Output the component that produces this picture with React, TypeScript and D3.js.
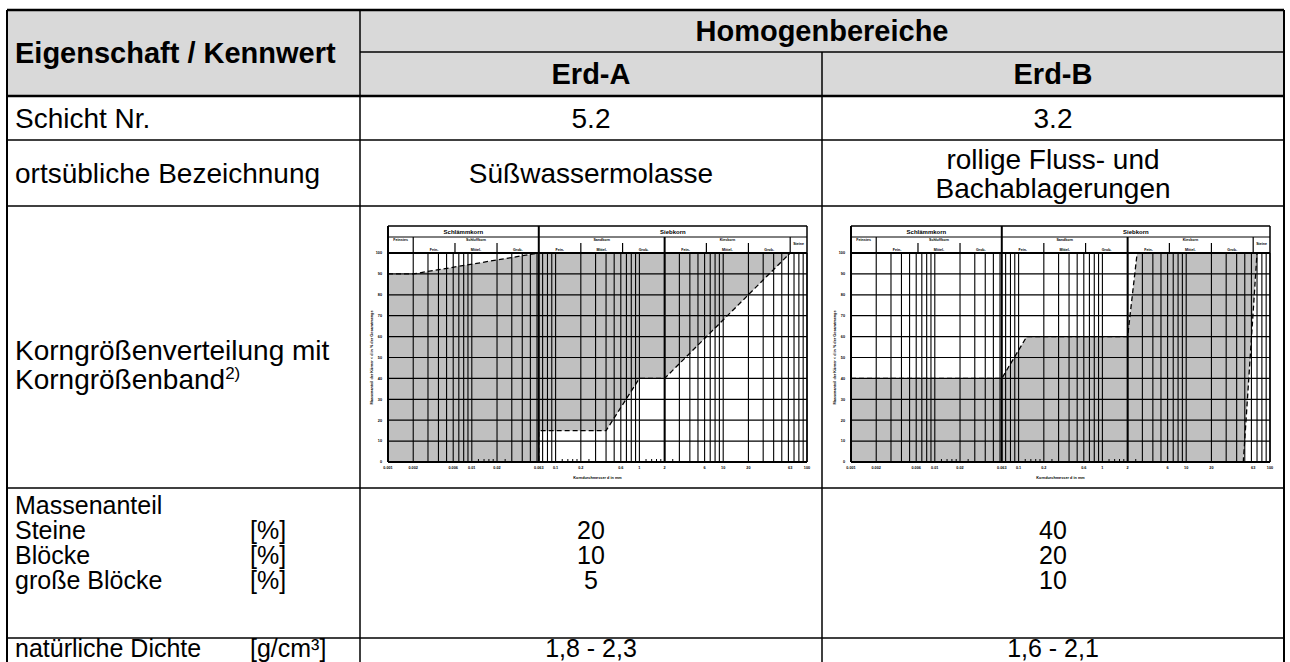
import React, { useEffect } from 'react';
import * as d3 from 'd3';

// ---------- table data ----------
const headLeft = 'Eigenschaft / Kennwert';
const headMain = 'Homogenbereiche';
const colHeaders = ['Erd-A', 'Erd-B'];
const schichtNr = ['5.2', '3.2'];
const bezeichnung = [['Süßwassermolasse'], ['rollige Fluss- und', 'Bachablagerungen']];
const massenLabels = ['Steine', 'Blöcke', 'große Blöcke'];
const massenA = ['20', '10', '5'];
const massenB = ['40', '20', '10'];
const dichte = ['1,8 - 2,3', '1,6 - 2,1'];

// ---------- grain size band data (d in mm, passing in %) ----------
const bandAUpperD = [0.001, 0.002, 0.063, 100];
const bandAUpperP = [90, 90, 100, 100];
const bandALowerD = [0.001, 0.063, 0.063, 0.4, 1, 2, 63, 100];
const bandALowerP = [0, 0, 15, 15, 40, 40, 100, 100];
const bandBUpperD = [0.001, 0.063, 0.125, 2, 2.6, 100];
const bandBUpperP = [40, 40, 60, 60, 100, 100];
const bandBLowerD = [0.001, 48, 70, 100];
const bandBLowerP = [0, 0, 100, 100];

const xTickVals = [0.001, 0.002, 0.006, 0.01, 0.02, 0.063, 0.1, 0.2, 0.6, 1, 2, 6, 10, 20, 63, 100];
const xTickLabels = ['0.001', '0.002', '0.006', '0.01', '0.02', '0.063', '0.1', '0.2', '0.6', '1', '2', '6', '10', '20', '63', '100'];
const yTickVals = [0, 10, 20, 30, 40, 50, 60, 70, 80, 90, 100];
const minorMarks = [1.2, 1.4, 1.6, 1.8, 2.5];

const FONT = '"Liberation Sans", Arial, Helvetica, sans-serif';

// table geometry
const X0 = 7, X1 = 360, X2 = 822, X3 = 1284;
const R = [10, 52, 96, 140, 206, 488, 638, 700];

type ChartProps = {
  left: number; right: number; top: number; bottom: number;
  upD: number[]; upP: number[]; loD: number[]; loP: number[];
};

function Chart({ left, right, top, bottom, upD, upP, loD, loP }: ChartProps) {
  const x = d3.scaleLog().domain([0.001, 100]).range([left, right]);
  const y = d3.scaleLinear().domain([0, 100]).range([bottom, top]);
  const up = upD.map((d, i) => [x(d), y(upP[i])] as [number, number]);
  const lo = loD.map((d, i) => [x(d), y(loP[i])] as [number, number]);
  const poly = [...up, ...lo.slice().reverse()];
  const line = d3.line();
  const grid: number[] = [];
  for (let k = -3; k <= 1; k++) for (let m = 1; m <= 9; m++) grid.push(m * Math.pow(10, k));
  grid.push(100);
  const marks: number[] = [];
  for (let k = -2; k <= 0; k++) minorMarks.forEach((m) => marks.push(m * Math.pow(10, k)));
  const hTop = top - 27, hMid = top - 16, hSub = top - 9;
  const groups = [
    { a: 0.002, b: 0.063, name: 'Schluffkorn' },
    { a: 0.063, b: 2, name: 'Sandkorn' },
    { a: 2, b: 63, name: 'Kieskorn' },
  ];
  const subs = ['Fein-', 'Mittel-', 'Grob-'];
  const mid = (a: number, b: number) => (x(a) + x(b)) / 2;
  return (
    <g fontFamily={FONT} fontWeight="bold">
      <path d={line(poly as any) + 'Z'} fill="#c0c0c0" />
      {grid.map((d, i) => (
        <line key={'v' + i} x1={x(d)} x2={x(d)} y1={top} y2={bottom} stroke="#000" strokeWidth={1.1} />
      ))}
      {[0.063, 2].map((d, i) => (
        <line key={'t' + i} x1={x(d)} x2={x(d)} y1={top} y2={bottom} stroke="#000" strokeWidth={2} />
      ))}
      {yTickVals.map((v, i) => (
        <line key={'h' + i} x1={left} x2={right} y1={y(v)} y2={y(v)} stroke="#000" strokeWidth={1.2} />
      ))}
      {marks.map((d, i) => (
        <line key={'m' + i} x1={x(d)} x2={x(d)} y1={bottom} y2={bottom - 3} stroke="#000" strokeWidth={1} />
      ))}
      <path d={line(up) || ''} fill="none" stroke="#000" strokeWidth={1.3} strokeDasharray="5,3" />
      <path d={line(lo) || ''} fill="none" stroke="#000" strokeWidth={1.3} strokeDasharray="5,3" />
      <line x1={left} x2={left} y1={hTop} y2={bottom} stroke="#000" strokeWidth={2} />
      <line x1={right} x2={right} y1={hTop} y2={bottom} stroke="#000" strokeWidth={1.5} />
      <line x1={left} x2={right} y1={bottom} y2={bottom} stroke="#000" strokeWidth={2} />
      <line x1={left} x2={right} y1={top} y2={top} stroke="#000" strokeWidth={2} />
      {/* header */}
      <line x1={left} x2={right} y1={hTop} y2={hTop} stroke="#000" strokeWidth={1.5} />
      <line x1={left} x2={right} y1={hMid} y2={hMid} stroke="#000" strokeWidth={1} />
      <line x1={x(0.063)} x2={x(0.063)} y1={hTop} y2={top} stroke="#000" strokeWidth={2} />
      {[0.002, 2, 63].map((d, i) => (
        <line key={'hd' + i} x1={x(d)} x2={x(d)} y1={hMid} y2={top} stroke="#000" strokeWidth={d === 2 ? 2 : 1.2} />
      ))}
      {[0.0063, 0.02, 0.2, 0.63, 6.3, 20].map((d, i) => (
        <line key={'sd' + i} x1={x(d)} x2={x(d)} y1={hSub - 1} y2={top} stroke="#000" strokeWidth={1.2} />
      ))}
      <text x={mid(0.001, 0.063)} y={hTop + 7.5} fontSize={6} textAnchor="middle">Schlämmkorn</text>
      <text x={mid(0.063, 100)} y={hTop + 7.5} fontSize={6} textAnchor="middle">Siebkorn</text>
      <text x={mid(0.001, 0.002)} y={hMid + 4} fontSize={3.6} textAnchor="middle">Feinstes</text>
      <text x={mid(63, 100)} y={hMid + 8} fontSize={3.6} textAnchor="middle">Steine</text>
      {groups.map((g, i) => {
        const la = Math.log10(g.a), lb = Math.log10(g.b);
        const bounds = [la, la + (lb - la) / 3, la + (2 * (lb - la)) / 3, lb].map((v) => Math.pow(10, v));
        return (
          <g key={'g' + i}>
            <text x={mid(g.a, g.b)} y={hMid + 4} fontSize={3.6} textAnchor="middle">{g.name}</text>
            {subs.map((s, j) => (
              <text key={j} x={mid(bounds[j], bounds[j + 1])} y={top - 2.5} fontSize={3.6} textAnchor="middle">{s}</text>
            ))}
          </g>
        );
      })}
      {yTickVals.map((v, i) => (
        <text key={'yl' + i} x={left - 6} y={y(v) + 1.3} fontSize={3.8} textAnchor="end">{v}</text>
      ))}
      {xTickVals.map((d, i) => (
        <text key={'xl' + i} x={x(d)} y={bottom + 7} fontSize={3.8} textAnchor="middle">{xTickLabels[i]}</text>
      ))}
      <text x={(left + right) / 2} y={bottom + 17} fontSize={3.8} textAnchor="middle">Korndurchmesser d in mm</text>
      <text transform={`translate(${left - 15},${(top + bottom) / 2}) rotate(-90)`} fontSize={3.8} textAnchor="middle">
        Massenanteil der Körner &lt; d in % der Gesamtmenge
      </text>
    </g>
  );
}

export default function App() {
  useEffect(() => {
    document.body.style.margin = '0';
  }, []);
  const fsB = 29;
  const fs = 28;
  const fsS = 25;
  const c2 = (X1 + X2) / 2, c3 = (X2 + X3) / 2;
  const base = (c: number, f: number) => c + 0.36 * f;
  const mY = [505, 530, 555, 580];
  const dY = 648;
  return (
    <svg width={1290} height={662} style={{ display: 'block', background: '#fff' }} fontFamily={FONT}>
      <rect x={X0} y={R[0]} width={X3 - X0} height={R[2] - R[0]} fill="#d9d9d9" />
      {/* header text */}
      <text x={15} y={base((R[0] + R[2]) / 2, fsB)} fontSize={fsB} fontWeight="bold">{headLeft}</text>
      <text x={(X1 + X3) / 2} y={base((R[0] + R[1]) / 2, fsB)} fontSize={fsB} fontWeight="bold" textAnchor="middle">{headMain}</text>
      <text x={c2} y={base((R[1] + R[2]) / 2, fsB)} fontSize={fsB} fontWeight="bold" textAnchor="middle">{colHeaders[0]}</text>
      <text x={c3} y={base((R[1] + R[2]) / 2, fsB)} fontSize={fsB} fontWeight="bold" textAnchor="middle">{colHeaders[1]}</text>

      {/* Schicht Nr */}
      <text x={15} y={base((R[2] + R[3]) / 2, fs)} fontSize={fs}>Schicht Nr.</text>
      <text x={c2} y={base((R[2] + R[3]) / 2, fs)} fontSize={fs} textAnchor="middle">{schichtNr[0]}</text>
      <text x={c3} y={base((R[2] + R[3]) / 2, fs)} fontSize={fs} textAnchor="middle">{schichtNr[1]}</text>

      {/* Bezeichnung */}
      <text x={15} y={base((R[3] + R[4]) / 2, fs)} fontSize={fs}>ortsübliche Bezeichnung</text>
      {bezeichnung.map((lines, ci) =>
        lines.map((t, li) => (
          <text key={ci + '-' + li} x={ci === 0 ? c2 : c3}
            y={base((R[3] + R[4]) / 2 + (li - (lines.length - 1) / 2) * 29, fs)} fontSize={fs} textAnchor="middle">{t}</text>
        ))
      )}

      {/* chart row */}
      <text x={15} y={base(350, fs)} fontSize={fs}>Korngrößenverteilung mit</text>
      <text x={15} y={base(379, fs)} fontSize={fs}>
        Korngrößenband<tspan fontSize={17} dy={-10}>2)</tspan>
      </text>
      <Chart left={388} right={807} top={253} bottom={462}
        upD={bandAUpperD} upP={bandAUpperP} loD={bandALowerD} loP={bandALowerP} />
      <Chart left={851} right={1270} top={253} bottom={462}
        upD={bandBUpperD} upP={bandBUpperP} loD={bandBLowerD} loP={bandBLowerP} />

      {/* Massenanteil */}
      <text x={15} y={base(mY[0], fsS)} fontSize={fsS}>Massenanteil</text>
      {massenLabels.map((t, i) => (
        <g key={'ma' + i}>
          <text x={15} y={base(mY[i + 1], fsS)} fontSize={fsS}>{t}</text>
          <text x={250} y={base(mY[i + 1], fsS)} fontSize={fsS}>[%]</text>
          <text x={c2} y={base(mY[i + 1], fsS)} fontSize={fsS} textAnchor="middle">{massenA[i]}</text>
          <text x={c3} y={base(mY[i + 1], fsS)} fontSize={fsS} textAnchor="middle">{massenB[i]}</text>
        </g>
      ))}

      {/* Dichte */}
      <text x={15} y={base(dY, fsS)} fontSize={fsS}>natürliche Dichte</text>
      <text x={250} y={base(dY, fsS)} fontSize={fsS}>[g/cm³]</text>
      <text x={c2} y={base(dY, fsS)} fontSize={fsS} textAnchor="middle">{dichte[0]}</text>
      <text x={c3} y={base(dY, fsS)} fontSize={fsS} textAnchor="middle">{dichte[1]}</text>

      {/* table lines */}
      <line x1={X0} x2={X3} y1={R[0]} y2={R[0]} stroke="#000" strokeWidth={2.5} />
      <line x1={X1} x2={X3} y1={R[1]} y2={R[1]} stroke="#000" strokeWidth={1.5} />
      <line x1={X0} x2={X3} y1={R[2]} y2={R[2]} stroke="#000" strokeWidth={2.5} />
      {R.slice(3, 7).map((yy, i) => (
        <line key={'r' + i} x1={X0} x2={X3} y1={yy} y2={yy} stroke="#000" strokeWidth={1.5} />
      ))}
      <line x1={X0} x2={X0} y1={R[0]} y2={R[7]} stroke="#000" strokeWidth={2} />
      <line x1={X1} x2={X1} y1={R[0]} y2={R[7]} stroke="#000" strokeWidth={1.5} />
      <line x1={X2} x2={X2} y1={R[1]} y2={R[7]} stroke="#000" strokeWidth={1.5} />
      <line x1={X3} x2={X3} y1={R[0]} y2={R[7]} stroke="#000" strokeWidth={2} />
    </svg>
  );
}
